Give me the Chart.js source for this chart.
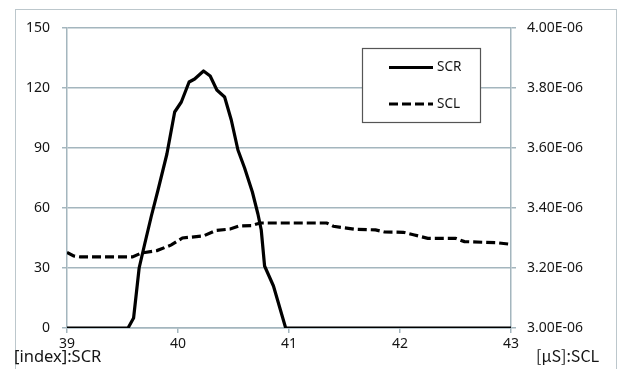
<!DOCTYPE html>
<html>
<head>
<meta charset="utf-8">
<script src="https://cdn.jsdelivr.net/npm/chart.js@4/dist/chart.umd.min.js"></script>
<style>
  html, body { margin: 0; padding: 0; background: #fff; }
  canvas { display: block; }
</style>
</head>
<body>
<canvas id="myChart" width="619" height="369"></canvas>
<script>
// SCR (left axis, index)
const scrX = [39, 39.55, 39.6, 39.65, 39.7, 39.76, 39.82, 39.9, 39.97, 40.03, 40.1, 40.15, 40.23, 40.29, 40.35, 40.42, 40.48, 40.54, 40.6, 40.67, 40.72, 40.75, 40.78, 40.86, 40.97, 43]
const scrY = [0, 0, 5, 30, 42, 56, 69, 87, 108, 113, 123, 124.5, 128.5, 126, 119, 115.5, 104, 89, 80, 68, 57, 49, 31, 21, 0, 0]

// SCL (right axis, uS)
const sclX = [39, 39.06, 39.12, 39.59, 39.67, 39.81, 39.94, 40.04, 40.23, 40.34, 40.47, 40.55, 40.66, 40.74, 41.34, 41.4, 41.6, 41.78, 41.86, 42.03, 42.13, 42.25, 42.5, 42.58, 42.88, 43]
const sclY = [3.252e-6, 3.24e-6, 3.237e-6, 3.237e-6, 3.25e-6, 3.258e-6, 3.277e-6, 3.3e-6, 3.307e-6, 3.325e-6, 3.33e-6, 3.34e-6, 3.341e-6, 3.35e-6, 3.35e-6, 3.339e-6, 3.329e-6, 3.327e-6, 3.32e-6, 3.319e-6, 3.31e-6, 3.299e-6, 3.299e-6, 3.288e-6, 3.284e-6, 3.279e-6]

const xTicks = [39, 40, 41, 42, 43]
const leftTicks = [0, 30, 60, 90, 120, 150]
const rightTicks = [3.0e-6, 3.2e-6, 3.4e-6, 3.6e-6, 3.8e-6, 4.0e-6]

const gridColor = '#a4b6be'
const textColor = '#151515'
const font = { family: 'Noto Sans', size: 14 }

// 3.2e-6 -> "3.20E-06"
const expLabel = (v) => {
    const parts = Number(v).toExponential(2).split('e')
    const n = parseInt(parts[1])
    return parts[0] + 'E' + (n < 0 ? '-' : '+') + String(Math.abs(n)).padStart(2, '0')
}

// outer frame, legend box and axis unit texts
const decor = {
    id: 'decor',
    beforeDraw(chart) {
        const ctx = chart.ctx
        ctx.save()
        ctx.fillStyle = '#fff'
        ctx.fillRect(0, 0, chart.width, chart.height)
        ctx.strokeStyle = '#bcc7cc'
        ctx.lineWidth = 1
        ctx.strokeRect(15.5, 9.5, 601, 400)
        ctx.restore()
    },
    afterDraw(chart) {
        const ctx = chart.ctx
        ctx.save()
        ctx.fillStyle = '#fff'
        ctx.fillRect(362, 48, 118, 74)
        ctx.strokeStyle = '#555'
        ctx.lineWidth = 1.2
        ctx.strokeRect(362.5, 48.5, 118, 74)

        const rows = [67.5, 104]
        chart.data.datasets.forEach((ds, i) => {
            ctx.strokeStyle = ds.borderColor
            ctx.lineWidth = ds.borderWidth
            ctx.setLineDash(ds.borderDash || [])
            ctx.beginPath()
            ctx.moveTo(389, rows[i])
            ctx.lineTo(433, rows[i])
            ctx.stroke()
            ctx.setLineDash([])
            ctx.fillStyle = textColor
            ctx.font = '13.5px "Noto Sans"'
            ctx.textBaseline = 'middle'
            ctx.fillText(ds.label, 437, rows[i])
        })

        ctx.fillStyle = textColor
        ctx.textBaseline = 'alphabetic'
        ctx.font = '16.5px "Noto Sans"'
        ctx.fillText('[index]:SCR', 14, 362)
        // full-width mu like the Japanese original
        ctx.font = '16px "Noto Sans CJK JP"'
        ctx.fillText('[\u03bcS]:SCL', 536, 362)
        ctx.restore()
    }
}

const myChartRef = document.getElementById('myChart').getContext('2d')

new Chart(myChartRef, {
    type: 'line',
    data: {
        datasets: [
            {
                label: 'SCR',
                data: scrX.map((x, i) => ({ x: x, y: scrY[i] })),
                yAxisID: 'y',
                borderColor: '#000',
                borderWidth: 3.2,
                borderJoinStyle: 'round',
                pointRadius: 0,
                tension: 0
            },
            {
                label: 'SCL',
                data: sclX.map((x, i) => ({ x: x, y: sclY[i] })),
                yAxisID: 'y2',
                borderColor: '#000',
                borderWidth: 3.2,
                borderDash: [9, 4],
                pointRadius: 0,
                tension: 0
            }
        ]
    },
    options: {
        responsive: false,
        animation: false,
        layout: { padding: { top: 28, left: 0, right: 0, bottom: 0 } },
        plugins: { legend: { display: false }, tooltip: { enabled: false } },
        scales: {
            x: {
                type: 'linear',
                min: 39,
                max: 43,
                afterBuildTicks: (axis) => { axis.ticks = xTicks.map(v => ({ value: v })) },
                afterFit: (axis) => { axis.height = 41 },
                ticks: { color: textColor, font: font, padding: 3, maxRotation: 0 },
                grid: { drawOnChartArea: false, color: gridColor, tickLength: 5, lineWidth: 1.5 },
                border: { color: gridColor, width: 1.5 }
            },
            y: {
                position: 'left',
                min: 0,
                max: 150,
                afterBuildTicks: (axis) => { axis.ticks = leftTicks.map(v => ({ value: v })) },
                afterFit: (axis) => { axis.width = 67 },
                ticks: { color: textColor, font: font, padding: 12 },
                grid: { color: gridColor, tickLength: 5, lineWidth: 1.5 },
                border: { color: gridColor, width: 1.5 }
            },
            y2: {
                position: 'right',
                min: 3.0e-6,
                max: 4.0e-6,
                afterBuildTicks: (axis) => { axis.ticks = rightTicks.map(v => ({ value: v })) },
                afterFit: (axis) => { axis.width = 108 },
                ticks: { color: textColor, font: font, padding: 11, callback: (v) => expLabel(v) },
                grid: { drawOnChartArea: false, color: gridColor, tickLength: 5, lineWidth: 1.5 },
                border: { color: gridColor, width: 1.5 }
            }
        }
    },
    plugins: [decor]
})
</script>
</body>
</html>
